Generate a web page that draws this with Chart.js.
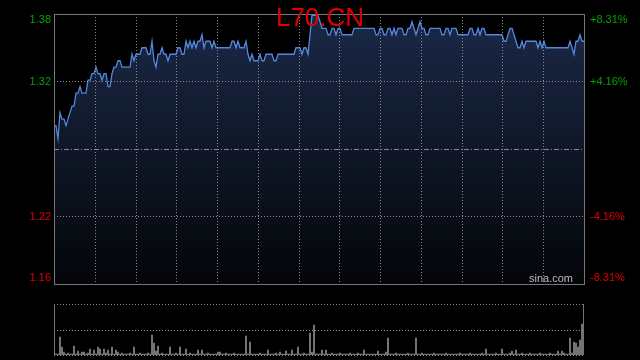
<!DOCTYPE html>
<html>
<head>
<meta charset="utf-8">
<script src="https://cdn.jsdelivr.net/npm/chart.js@4/dist/chart.umd.min.js"></script>
<style>
html, body { margin: 0; padding: 0; background: #000; }
#wrap { position: relative; width: 640px; height: 360px; overflow: hidden; background: #000; }
#price_box { position: absolute; left: 0; top: 0; width: 640px; height: 295px; }
#vol_box { position: absolute; left: 0; top: 295px; width: 640px; height: 65px; }
</style>
</head>
<body>
<div id="wrap">
  <div id="price_box"><canvas id="ctx_price"></canvas></div>
  <div id="vol_box"><canvas id="ctx_volume"></canvas></div>
</div>
<script>
// intraday price, one sample every ~2px of the reference
const prices = [
    1.29, 1.29, 1.28, 1.30, 1.295, 1.295, 1.29, 1.295, 1.30, 1.305,
    1.305, 1.315, 1.315, 1.32, 1.315, 1.315, 1.315, 1.325, 1.325, 1.33,
    1.33, 1.335, 1.33, 1.33, 1.325, 1.33, 1.33, 1.32, 1.32, 1.33,
    1.335, 1.335, 1.34, 1.34, 1.335, 1.335, 1.335, 1.335, 1.335, 1.345,
    1.34, 1.345, 1.345, 1.345, 1.35, 1.35, 1.35, 1.345, 1.345, 1.355,
    1.34, 1.335, 1.345, 1.345, 1.35, 1.345, 1.345, 1.34, 1.345, 1.345,
    1.345, 1.345, 1.35, 1.35, 1.345, 1.345, 1.355, 1.35, 1.355, 1.35,
    1.355, 1.35, 1.355, 1.355, 1.36, 1.35, 1.355, 1.355, 1.355, 1.35,
    1.355, 1.35, 1.35, 1.35, 1.35, 1.35, 1.35, 1.35, 1.35, 1.355,
    1.355, 1.35, 1.355, 1.35, 1.35, 1.35, 1.355, 1.345, 1.34, 1.345,
    1.34, 1.34, 1.34, 1.345, 1.34, 1.34, 1.345, 1.345, 1.345, 1.345,
    1.34, 1.34, 1.345, 1.345, 1.345, 1.345, 1.345, 1.345, 1.345, 1.345,
    1.345, 1.35, 1.35, 1.35, 1.345, 1.35, 1.35, 1.345, 1.36, 1.375,
    1.375, 1.375, 1.375, 1.37, 1.365, 1.365, 1.365, 1.36, 1.36, 1.365,
    1.365, 1.36, 1.365, 1.365, 1.36, 1.36, 1.36, 1.36, 1.36, 1.36,
    1.365, 1.365, 1.365, 1.365, 1.365, 1.365, 1.365, 1.365, 1.365, 1.365,
    1.365, 1.36, 1.36, 1.365, 1.365, 1.36, 1.36, 1.365, 1.365, 1.36,
    1.365, 1.36, 1.365, 1.365, 1.365, 1.36, 1.36, 1.365, 1.365, 1.37,
    1.365, 1.36, 1.365, 1.37, 1.365, 1.365, 1.36, 1.36, 1.365, 1.365,
    1.365, 1.365, 1.365, 1.365, 1.36, 1.36, 1.365, 1.365, 1.36, 1.365,
    1.365, 1.365, 1.36, 1.36, 1.36, 1.36, 1.36, 1.36, 1.365, 1.365,
    1.36, 1.36, 1.365, 1.36, 1.365, 1.365, 1.36, 1.36, 1.36, 1.36,
    1.36, 1.36, 1.36, 1.36, 1.36, 1.355, 1.355, 1.36, 1.365, 1.365,
    1.36, 1.355, 1.35, 1.35, 1.355, 1.35, 1.355, 1.355, 1.355, 1.355,
    1.355, 1.355, 1.35, 1.355, 1.35, 1.355, 1.35, 1.35, 1.35, 1.35,
    1.35, 1.35, 1.35, 1.35, 1.35, 1.35, 1.35, 1.35, 1.355, 1.35,
    1.345, 1.355, 1.355, 1.36, 1.355, 1.355
];

const volumes = [
    3, 1, 1, 18, 8, 3, 1, 2, 1, 1,
    9, 1, 4, 1, 3, 3, 1, 2, 6, 1,
    5, 1, 8, 6, 1, 6, 2, 5, 1, 8,
    1, 5, 3, 1, 2, 1, 1, 1, 2, 1,
    8, 1, 1, 2, 1, 1, 1, 2, 1, 20,
    12, 4, 9, 1, 2, 1, 1, 1, 8, 1,
    1, 2, 1, 8, 1, 1, 6, 1, 2, 1,
    1, 1, 5, 1, 5, 1, 1, 2, 1, 1,
    1, 1, 3, 3, 1, 1, 2, 1, 1, 1,
    2, 1, 1, 1, 1, 1, 19, 1, 13, 1,
    1, 1, 1, 2, 1, 1, 1, 5, 1, 1,
    1, 2, 1, 3, 1, 1, 4, 1, 1, 5,
    1, 1, 8, 1, 1, 2, 1, 1, 22, 3,
    30, 1, 1, 1, 5, 1, 5, 1, 1, 2,
    1, 1, 1, 2, 1, 1, 1, 1, 2, 1,
    1, 1, 2, 1, 1, 5, 1, 1, 1, 1,
    1, 1, 4, 1, 1, 1, 3, 17, 1, 1,
    1, 2, 1, 1, 1, 1, 1, 2, 1, 1,
    1, 17, 1, 1, 2, 1, 1, 1, 1, 1,
    2, 1, 1, 1, 1, 1, 2, 1, 1, 1,
    1, 1, 1, 2, 1, 1, 1, 1, 2, 1,
    1, 1, 1, 1, 2, 1, 6, 1, 1, 1,
    1, 2, 1, 1, 6, 1, 1, 1, 2, 4,
    1, 5, 1, 1, 2, 1, 1, 1, 2, 1,
    1, 1, 1, 2, 1, 1, 1, 1, 2, 1,
    1, 1, 4, 1, 4, 2, 1, 1, 17, 2,
    13, 12, 8, 15, 31, 51
];

const samples = prices.map((_, i) => i);

// horizontal grid: top, +4.16%, prev close, -4.16%, bottom
const gridValues = [1.376, 1.324, 1.272, 1.22, 1.168];
const leftLabels = ['1.38', '1.32', '', '1.22', '1.16'];
const rightLabels = ['+8.31%', '+4.16%', '', '-4.16%', '-8.31%'];
const xDivisions = 13;

const title = 'L70.CN';
const FONT = '"Liberation Sans", Arial, sans-serif';
const GREEN = '#00a400';
const RED = '#e00000';

const priceDecor = {
    id: 'priceDecor',
    afterDatasetsDraw(chart) {
        const ctx = chart.ctx;
        const a = chart.chartArea;
        const y = chart.scales.y;
        ctx.save();
        ctx.lineWidth = 1;
        ctx.strokeStyle = '#8a8a8a';
        ctx.setLineDash([1, 2]);
        for (let k = 1; k < xDivisions; k++) {
            const px = Math.round(a.left + (a.right - a.left) * k / xDivisions) + 0.5;
            ctx.beginPath();
            ctx.moveTo(px, a.top);
            ctx.lineTo(px, a.bottom);
            ctx.stroke();
        }
        for (let k = 1; k < gridValues.length - 1; k++) {
            const py = Math.round(y.getPixelForValue(gridValues[k])) + 0.5;
            ctx.setLineDash(k === 2 ? [5, 2, 1, 2] : [1, 2]);
            ctx.beginPath();
            ctx.moveTo(a.left, py);
            ctx.lineTo(a.right, py);
            ctx.stroke();
        }
        ctx.setLineDash([]);
        ctx.strokeStyle = '#777';
        ctx.strokeRect(a.left + 0.5, a.top + 0.5, a.right - a.left, a.bottom - a.top);

        // axis labels
        ctx.font = '11px ' + FONT;
        ctx.textBaseline = 'middle';
        gridValues.forEach((v, k) => {
            if (!leftLabels[k]) return;
            let py = y.getPixelForValue(v);
            py = Math.min(Math.max(py, a.top + 6), a.bottom - 6);
            ctx.fillStyle = k < 2 ? GREEN : RED;
            ctx.textAlign = 'right';
            ctx.fillText(leftLabels[k], a.left - 3, py);
            ctx.textAlign = 'left';
            ctx.fillText(rightLabels[k], a.right + 6, py);
        });

        ctx.fillStyle = '#bbbbbb';
        ctx.textAlign = 'right';
        ctx.textBaseline = 'alphabetic';
        ctx.fillText('sina.com', a.right - 11, a.bottom - 2);

        ctx.font = '26px ' + FONT;
        ctx.fillStyle = RED;
        ctx.textAlign = 'center';
        ctx.fillText(title, 320, 26);
        ctx.restore();
    }
};

const volDecor = {
    id: 'volDecor',
    beforeDatasetsDraw(chart) {
        const ctx = chart.ctx;
        const a = chart.chartArea;
        ctx.save();
        ctx.lineWidth = 1;
        ctx.strokeStyle = '#8a8a8a';
        ctx.setLineDash([1, 2]);
        [a.top, (a.top + a.bottom) / 2, a.bottom].forEach(v => {
            const py = Math.round(v) + 0.5;
            ctx.beginPath();
            ctx.moveTo(a.left, py);
            ctx.lineTo(a.right, py);
            ctx.stroke();
        });
        ctx.setLineDash([]);
        ctx.strokeStyle = '#777';
        ctx.beginPath();
        ctx.moveTo(a.left + 0.5, a.top);
        ctx.lineTo(a.left + 0.5, a.bottom + 1);
        ctx.stroke();
        ctx.restore();
    }
};

new Chart(document.getElementById('ctx_price'), {
    type: 'line',
    data: {
        labels: samples,
        datasets: [{
            label: 'price',
            data: prices,
            borderColor: '#5288e0',
            borderWidth: 1.3,
            pointRadius: 0,
            tension: 0,
            fill: 'start',
            backgroundColor: (c) => {
                const a = c.chart.chartArea;
                if (!a) return 'rgba(0,0,0,0)';
                const g = c.chart.ctx.createLinearGradient(0, a.top, 0, a.bottom);
                g.addColorStop(0, '#1b2948');
                g.addColorStop(1, '#030508');
                return g;
            }
        }]
    },
    options: {
        responsive: true,
        maintainAspectRatio: false,
        animation: false,
        devicePixelRatio: 1,
        layout: { padding: { left: 54, right: 56, top: 14, bottom: 11 } },
        scales: {
            x: { display: false, offset: false },
            y: { display: false, min: gridValues[4], max: gridValues[0] }
        },
        plugins: {
            legend: { display: false },
            tooltip: { enabled: false }
        }
    },
    plugins: [priceDecor]
});

new Chart(document.getElementById('ctx_volume'), {
    type: 'bar',
    data: {
        labels: samples,
        datasets: [{
            label: 'volume',
            data: volumes,
            backgroundColor: '#8c8c8c',
            barThickness: 1
        }]
    },
    options: {
        responsive: true,
        maintainAspectRatio: false,
        animation: false,
        devicePixelRatio: 1,
        layout: { padding: { left: 54, right: 56, top: 9, bottom: 5 } },
        scales: {
            x: { display: false, offset: false },
            y: { display: false, min: 0, max: Math.max(...volumes) }
        },
        plugins: {
            legend: { display: false },
            tooltip: { enabled: false }
        }
    },
    plugins: [volDecor]
});
</script>
</body>
</html>
